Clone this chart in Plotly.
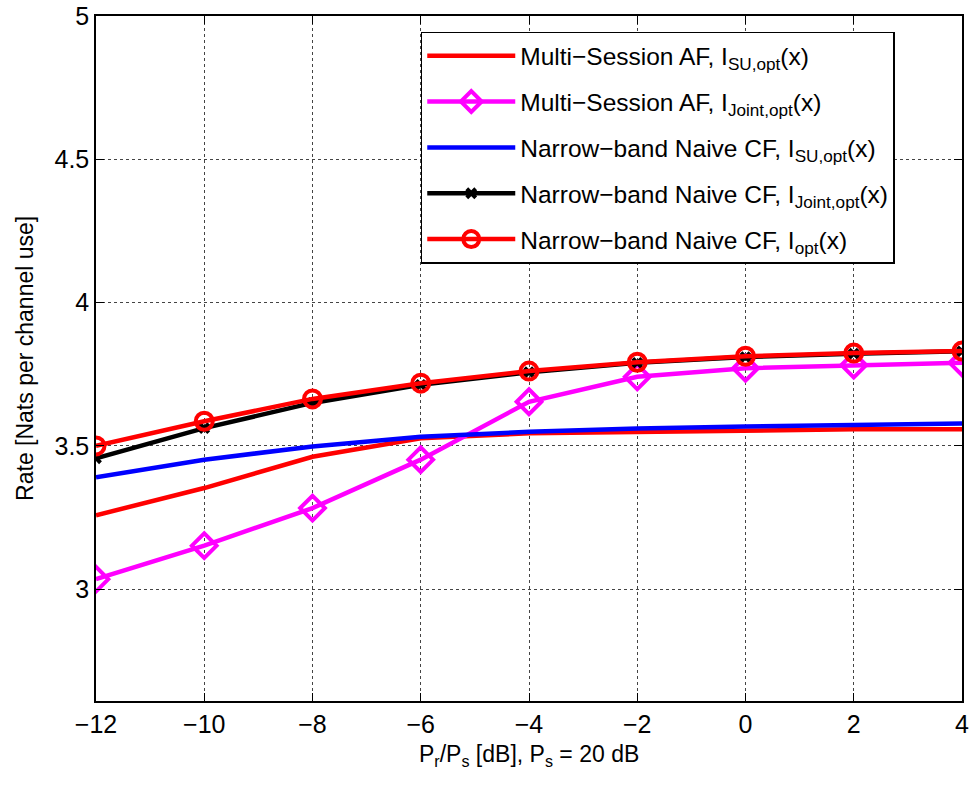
import plotly.graph_objects as go

x_db = [-12, -10, -8, -6, -4, -2, 0, 2, 4]
af_su = [3.258, 3.353, 3.462, 3.527, 3.544, 3.549, 3.555, 3.558, 3.558]
af_joint = [3.035, 3.152, 3.283, 3.452, 3.654, 3.741, 3.771, 3.782, 3.790]
cf_su = [3.391, 3.452, 3.498, 3.532, 3.549, 3.561, 3.568, 3.574, 3.578]
cf_joint = [3.457, 3.562, 3.650, 3.713, 3.757, 3.790, 3.810, 3.822, 3.830]
cf_opt = [3.500, 3.586, 3.664, 3.719, 3.761, 3.792, 3.813, 3.824, 3.831]

x_ticks = [-12, -10, -8, -6, -4, -2, 0, 2, 4]
y_ticks = [3, 3.5, 4, 4.5, 5]
y_tick_text = ["3", "3.5", "4", "4.5", "5"]

names = [
    "Multi−Session AF, I<sub>SU,opt</sub>(x)",
    "Multi−Session AF, I<sub>Joint,opt</sub>(x)",
    "Narrow−band Naive CF, I<sub>SU,opt</sub>(x)",
    "Narrow−band Naive CF, I<sub>Joint,opt</sub>(x)",
    "Narrow−band Naive CF, I<sub>opt</sub>(x)",
]

fig = go.Figure()
fig.add_trace(go.Scatter(x=x_db, y=af_su, name=names[0], mode="lines", legendgroup="a",
                         line=dict(color="#ff0000", width=4.5)))
fig.add_trace(go.Scatter(x=x_db, y=af_joint, name=names[1], mode="lines+markers", legendgroup="b",
                         line=dict(color="#ff00ff", width=4.5),
                         marker=dict(symbol="diamond-open", size=19, color="#ff00ff",
                                     line=dict(width=4, color="#ff00ff"))))
fig.add_trace(go.Scatter(x=x_db, y=cf_su, name=names[2], mode="lines", legendgroup="c",
                         line=dict(color="#0000ff", width=4.5)))
fig.add_trace(go.Scatter(x=x_db, y=cf_joint, name=names[3], mode="lines+markers", legendgroup="d",
                         line=dict(color="#000000", width=4.5),
                         marker=dict(symbol="x-thin", size=9, color="#000000",
                                     line=dict(width=4, color="#000000"))))
fig.add_trace(go.Scatter(x=x_db, y=cf_opt, name=names[4], mode="lines+markers", legendgroup="e",
                         line=dict(color="#ff0000", width=4.5),
                         marker=dict(symbol="circle-open", size=17, color="#ff0000",
                                     line=dict(width=4, color="#ff0000"))))

font_family = "Liberation Sans, Arial, Helvetica, sans-serif"
axis_common = dict(
    showline=True, linecolor="black", linewidth=1.5, mirror="ticks",
    ticks="inside", ticklen=8, tickcolor="black", automargin=False,
    showgrid=True, gridcolor="#444444", griddash="dot", gridwidth=1,
    zeroline=False, tickfont=dict(size=25, color="black"),
)
fig.update_xaxes(range=[-12, 4], tickvals=x_ticks, **axis_common)
fig.update_yaxes(range=[2.61, 5], tickvals=y_ticks, ticktext=y_tick_text, **axis_common)

fig.add_annotation(text="P<sub>r</sub>/P<sub>s</sub> [dB], P<sub>s</sub> = 20 dB",
                   xref="paper", yref="paper", x=0.5, y=-0.056, xanchor="center", yanchor="top",
                   showarrow=False, font=dict(size=23, color="black"))
fig.add_annotation(text="Rate [Nats per channel use]", textangle=-90,
                   xref="paper", yref="paper", x=-0.1, y=0.5, xanchor="left", yanchor="middle",
                   showarrow=False, font=dict(size=23, color="black"))

fig.update_layout(
    width=975, height=785,
    margin=dict(l=96, r=13, t=16, b=84),
    paper_bgcolor="white", plot_bgcolor="white",
    font=dict(family=font_family, color="black"),
    showlegend=True,
    legend=dict(x=0.375, y=0.977, xanchor="left", yanchor="top",
                bgcolor="white", bordercolor="black", borderwidth=1.5,
                font=dict(size=24.5, color="black"), itemwidth=88,
                traceorder="grouped", tracegroupgap=11),
)

fig.write_html("out.html", config={"displayModeBar": False},
               post_script="document.body.style.margin='0';")
